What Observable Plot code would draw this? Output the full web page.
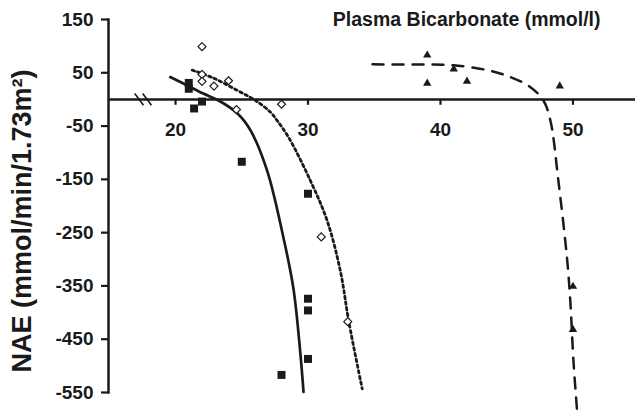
<!DOCTYPE html>
<html>
<head>
<meta charset="utf-8">
<script src="https://cdn.jsdelivr.net/npm/d3@7"></script>
<script src="https://cdn.jsdelivr.net/npm/@observablehq/plot@0.6"></script>
<style>
  html, body { margin: 0; padding: 0; background: #fff; }
  #chart svg { display: block; }
</style>
</head>
<body>
<div id="chart"></div>
<script>
// Filled squares
const sqX = [21.0, 21.0, 21.4, 22.0, 25.0, 30.0, 30.0, 30.0, 30.0, 28.0];
const sqY = [31, 20, -17, -4, -117, -177, -374, -396, -487, -517];
// Open diamonds
const dmX = [22.0, 22.0, 22.0, 22.9, 24.0, 24.6, 28.0, 31.0, 33.0];
const dmY = [99, 47, 34, 25, 35, -19, -9, -258, -417];
// Filled triangles
const trX = [39, 39, 41, 42, 49, 50, 50];
const trY = [83, 30, 57, 34, 25, -351, -432];

// Fitted curves
const solidX = [19.6, 20.9, 22.1, 23.25, 24.66, 25.66, 26.92, 28.15, 28.9, 29.43, 29.66];
const solidY = [42, 26, 11, -2, -26, -58, -134, -260, -355, -479, -549];
const dottedX = [21.26, 22.87, 24.66, 26.04, 27.17, 27.68, 28.53, 30.19, 31.45, 32.45, 33.08, 34.09];
const dottedY = [55, 40, 17, -2, -24, -40, -71, -153, -228, -323, -417, -543];
const dashedX = [34.87, 36.98, 39.0, 40.98, 43.52, 45.28, 46.79, 47.77, 48.3, 48.9, 49.55, 49.8, 50.04, 50.3];
const dashedY = [66, 65.5, 65.5, 64, 55, 42, 23, -2, -40, -153, -298, -379, -492, -581];

// Axes
const xTicks = [20, 30, 40, 50];
const yTicks = [150, 50, -50, -150, -250, -350, -450, -550];
const xBreak = [17.25, 17.85];
const title = "Plasma Bicarbonate (mmol/l)";
const yLabel = "NAE (mmol/min/1.73m\u00B2)";

const pts = (xs, ys) => xs.map((x, i) => ({x, y: ys[i]}));
const squares = pts(sqX, sqY);
const diamonds = pts(dmX, dmY);
const triangles = pts(trX, trY);
const solid = pts(solidX, solidY);
const dotted = pts(dottedX, dottedY);
const dashed = pts(dashedX, dashedY);

const FONT = "'Liberation Sans', Arial, Helvetica, sans-serif";

const plot = Plot.plot({
  width: 635,
  height: 410,
  marginLeft: 108,
  marginRight: 0,
  marginTop: 19,
  marginBottom: 18,
  style: {fontFamily: FONT, fontWeight: "bold", fontSize: "19px", color: "#1a1a1a", background: "#fff", overflow: "visible"},
  x: {domain: [14.94, 54.72], axis: null},
  y: {domain: [-550, 150], axis: null},
  marks: [
    // y axis line + ticks + labels
    Plot.frame({anchor: "left", stroke: "#1a1a1a", strokeWidth: 2.5}),
    Plot.axisY({ticks: yTicks, tickSize: 7, tickPadding: 8, strokeWidth: 2.2, stroke: "#1a1a1a",
      fontSize: 19, fontWeight: "bold", label: null, tickFormat: d => String(d)}),
    // x axis at y = 0
    Plot.ruleY([0], {stroke: "#1a1a1a", strokeWidth: 2.5}),
    Plot.ruleX(xTicks, {y1: 0, y2: -11, stroke: "#1a1a1a", strokeWidth: 2.2}),
    Plot.text(xTicks, {x: d => d, y: 0, dy: 30, text: d => String(d), fontSize: 19, fontWeight: "bold", fill: "#1a1a1a"}),
    // axis break
    Plot.link(xBreak, {x1: d => d - 0.33, x2: d => d + 0.33, y1: 11, y2: -11, stroke: "#1a1a1a", strokeWidth: 1.6}),
    // curves
    Plot.line(solid, {x: "x", y: "y", curve: "catmull-rom", stroke: "#1a1a1a", strokeWidth: 2.7}),
    Plot.line(dotted, {x: "x", y: "y", curve: "catmull-rom", stroke: "#1a1a1a", strokeWidth: 2.8, strokeDasharray: "2.6,3.2"}),
    Plot.line(dashed, {x: "x", y: "y", curve: "catmull-rom", stroke: "#1a1a1a", strokeWidth: 2.5, strokeDasharray: "11,9"}),
    // markers
    Plot.dot(squares, {x: "x", y: "y", symbol: "square", r: 4.5, fill: "#1a1a1a", stroke: "none"}),
    Plot.dot(diamonds, {x: "x", y: "y", symbol: "diamond2", r: 3.6, fill: "#fff", stroke: "#1a1a1a", strokeWidth: 1.2}),
    Plot.dot(triangles, {x: "x", y: "y", symbol: "triangle", r: 3.1, fill: "#1a1a1a", stroke: "none"}),
    // title & y label
    Plot.text([title], {frameAnchor: "top-right", dx: -35, dy: 0, text: d => d, fontSize: 19.5, fontWeight: "bold", fill: "#1a1a1a", lineAnchor: "middle"}),
    Plot.text([yLabel], {frameAnchor: "left", dx: -86, dy: 15, rotate: -90, textAnchor: "middle", lineAnchor: "middle", text: d => d, fontSize: 27, fontWeight: "bold", fill: "#1a1a1a"})
  ]
});
document.getElementById("chart").appendChild(plot);
</script>
</body>
</html>
